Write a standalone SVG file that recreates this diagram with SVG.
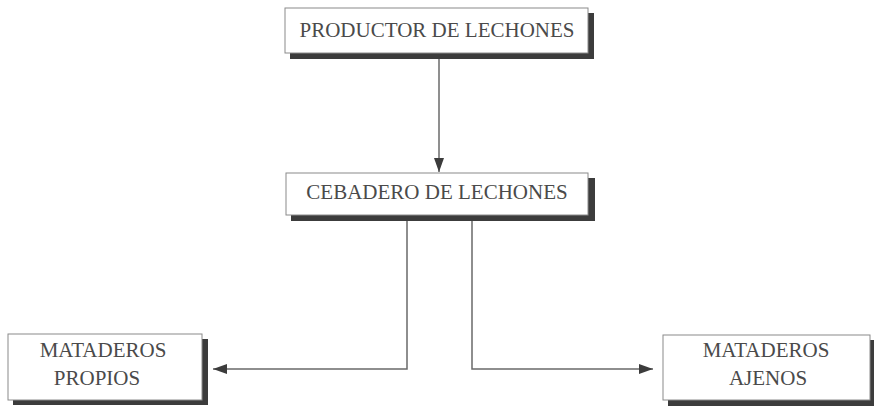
<svg xmlns="http://www.w3.org/2000/svg" width="874" height="406" viewBox="0 0 874 406">
<style>
.shadow{fill:#3c3c3c}
.box{fill:#ffffff;stroke:#8a8a8a;stroke-width:1}
.lbl{font-family:"Liberation Serif","Times New Roman",serif;font-size:21px;fill:#4a4a4a;text-anchor:middle}
.line{stroke:#6a6a6a;stroke-width:1.5;fill:none}
</style>
<defs>
<marker id="arr" viewBox="0 0 14 10" refX="14" refY="5" markerWidth="14" markerHeight="10" markerUnits="userSpaceOnUse" orient="auto">
<path d="M0,0 L14,5 L0,10 Z" fill="#3c3c3c"/>
</marker>
</defs>
<rect width="874" height="406" fill="#ffffff"/>
<g id="connectors">
<line class="line" x1="439" y1="58" x2="439" y2="172" marker-end="url(#arr)"/>
<polyline class="line" points="407,221 407,369 213,369" marker-end="url(#arr)"/>
<polyline class="line" points="472,221 472,369 653,369" marker-end="url(#arr)"/>
</g>
<g id="productor">
<rect class="shadow" x="290" y="13" width="304" height="46"/>
<rect class="box" x="285" y="8" width="303" height="45"/>
<text class="lbl" x="437" y="37">PRODUCTOR DE LECHONES</text>
</g>
<g id="cebadero">
<rect class="shadow" x="291" y="178" width="304" height="43"/>
<rect class="box" x="286" y="173" width="302" height="42"/>
<text class="lbl" x="437" y="199">CEBADERO DE LECHONES</text>
</g>
<g id="propios">
<rect class="shadow" x="13" y="339" width="195" height="66"/>
<rect class="box" x="8" y="334" width="194" height="66"/>
<text class="lbl" x="103" y="357">MATADEROS</text>
<text class="lbl" x="97" y="385">PROPIOS</text>
</g>
<g id="ajenos">
<rect class="shadow" x="668" y="340" width="206" height="66"/>
<rect class="box" x="663" y="335" width="207" height="65"/>
<text class="lbl" x="766" y="357">MATADEROS</text>
<text class="lbl" x="768" y="385">AJENOS</text>
</g>
</svg>
